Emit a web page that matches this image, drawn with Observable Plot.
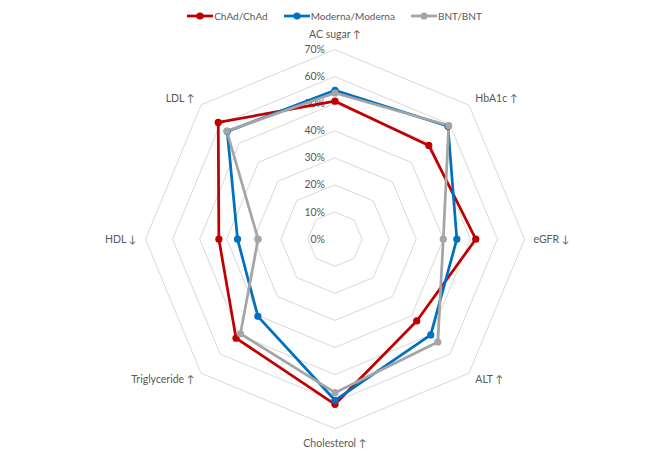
<!DOCTYPE html>
<html>
<head>
<meta charset="utf-8">
<script src="https://cdn.jsdelivr.net/npm/d3@7"></script>
<script src="https://cdn.jsdelivr.net/npm/@observablehq/plot@0.6"></script>
<style>
  html, body { margin: 0; padding: 0; background: #fff; }
  #wrap { width: 669px; font-family: Lato, "DejaVu Sans", sans-serif; color: #595959; }
  #legend { height: 24px; display: flex; justify-content: center; align-items: center; padding-top: 8px; box-sizing: border-box; font-size: 10px; }
  .item { display: flex; align-items: center; margin: 0 8px; }
  .item svg { margin-right: 1px; }
  #chart svg { overflow: visible; display: block; }
</style>
</head>
<body>
<div id="wrap">
  <div id="legend"></div>
  <div id="chart"></div>
</div>
<script>
const categories = ["AC sugar ↑", "HbA1c ↑", "eGFR ↓", "ALT ↑", "Cholesterol ↑", "Triglyceride ↑", "HDL ↓", "LDL ↑"];
const seriesNames = ["ChAd/ChAd", "Moderna/Moderna", "BNT/BNT"];
const chadValues = [51, 49, 52, 42.7, 61, 51.7, 42.9, 61];
const modernaValues = [55, 59, 45, 50, 59.5, 40.3, 36, 56.3];
const bntValues = [54, 59.4, 40, 53.7, 56.7, 49.4, 28.4, 56.5];
const ringTicks = [0, 10, 20, 30, 40, 50, 60, 70];
const tickLabels = ["0%", "10%", "20%", "30%", "40%", "50%", "60%", "70%"];
const seriesColors = ["#C00000", "#0070C0", "#A5A5A5"];

const W = 669, H = 427, cx = 334.5, cy = 214.7, k = 189.5 / 70;
const n = categories.length;
const ang = i => (i * 2 * Math.PI) / n;
const px = (v, i) => v * Math.sin(ang(i));
const py = (v, i) => v * Math.cos(ang(i));

// rings
const ringPts = [];
ringTicks.filter(t => t > 0).forEach(t => {
  for (let i = 0; i < n; i++) ringPts.push({ring: t, x: px(t, i), y: py(t, i)});
});

// series
const allValues = [chadValues, modernaValues, bntValues];
const seriesPts = [];
allValues.forEach((vals, s) => {
  vals.forEach((v, i) => seriesPts.push({series: seriesNames[s], x: px(v, i), y: py(v, i)}));
});

// axis labels
const labelData = categories.map((c, i) => {
  const s = Math.sin(ang(i));
  const vertical = Math.abs(s) < 0.1;
  const r = vertical ? 75.5 : 73.3;
  return {label: c, x: px(r, i), y: py(r, i), anchor: vertical ? "middle" : (s > 0 ? "start" : "end")};
});

const textStyle = {fill: "#595959", fontSize: 10.5, lineAnchor: "middle"};

const chart = Plot.plot({
  width: W,
  height: H,
  margin: 0,
  style: {fontFamily: 'Lato, "DejaVu Sans", sans-serif', background: "#fff", overflow: "visible"},
  x: {domain: [-cx / k, (W - cx) / k], range: [0, W], axis: null},
  y: {domain: [-(H - cy) / k, cy / k], range: [H, 0], axis: null},
  color: {domain: seriesNames, range: seriesColors},
  marks: [
    Plot.line(ringPts, {x: "x", y: "y", z: "ring", curve: "linear-closed", stroke: "#d9d9d9", strokeWidth: 1}),
    Plot.text(ringTicks, {x: () => 0, y: d => d, text: (d, i) => tickLabels[i], dx: -10, textAnchor: "end", ...textStyle}),
    Plot.line(seriesPts, {x: "x", y: "y", z: "series", stroke: "series", curve: "linear-closed", strokeWidth: 2.75}),
    Plot.dot(seriesPts, {x: "x", y: "y", fill: "series", r: 3.6}),
    ...["start", "middle", "end"].map(a =>
      Plot.text(labelData.filter(d => d.anchor === a), {x: "x", y: "y", text: "label", textAnchor: a, ...textStyle})
    )
  ]
});
document.getElementById("chart").appendChild(chart);

// legend
const legend = document.getElementById("legend");
seriesNames.forEach((name, i) => {
  const item = document.createElement("div");
  item.className = "item";
  item.innerHTML = `<svg width="26" height="10"><line x1="0" y1="5" x2="26" y2="5" stroke="${seriesColors[i]}" stroke-width="2.75"/><circle cx="13" cy="5" r="3.6" fill="${seriesColors[i]}"/></svg><span>${name}</span>`;
  legend.appendChild(item);
});
</script>
</body>
</html>
